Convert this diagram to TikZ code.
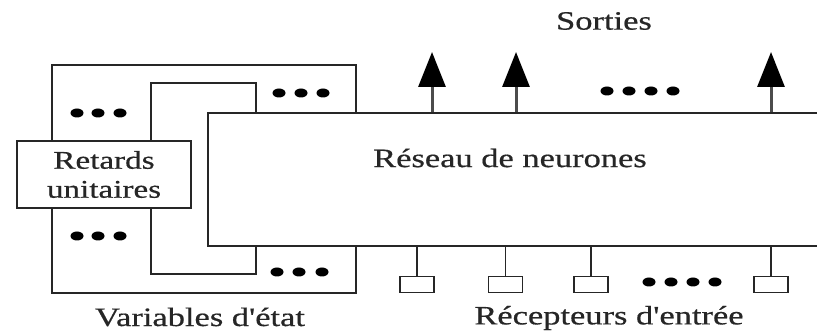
\documentclass[tikz,border=0pt]{standalone}
\usepackage{fontspec}
\newfontfamily\dfont[FakeStretch=1.3,FakeBold=0.6]{Liberation Serif}
\usetikzlibrary{arrows.meta}
\begin{document}
\begin{tikzpicture}[x=1pt,y=-1pt,
  ln/.style={line width=1.6pt, draw=black!85},
  lbl/.style={font=\dfont\fontsize{26.5}{30}\selectfont, text=black!85, inner sep=0pt},
  boxlbl/.style={font=\dfont\fontsize{25.5}{29}\selectfont, text=black!85, align=center},
  outarrow/.style={line width=3pt, draw=black!70, -{Triangle[width=27pt,length=35pt,color=black,fill=black]}},
  recbox/.style={draw=black!85, line width=1.8pt, minimum width=34pt, minimum height=16pt, inner sep=0pt},
  dotmark/.style={fill=black, draw=none}
]
\useasboundingbox (0,0) rectangle (817,336);
\clip (0,0) rectangle (817,336);

% main network box (open to the right edge)
\node[ln, rectangle, minimum width=650pt, minimum height=133pt, anchor=north west, inner sep=0pt] (main) at (207,112) {};
\node[lbl] (mainlbl) at (510,158) {Réseau de neurones};

% unit delays
\node[ln, rectangle, minimum width=174pt, minimum height=67pt, inner sep=0pt, boxlbl] (retards) at (104,174.5) {Retards\\unitaires};

% feedback loops
\coordinate (oL) at (52,65);  \coordinate (oR) at (356,65);
\coordinate (iL) at (151,83); \coordinate (iR) at (256,83);
\coordinate (bL) at (52,293); \coordinate (bR) at (356,293);
\coordinate (jL) at (151,274); \coordinate (jR) at (256,274);
\draw[ln] (retards.north -| oL) -- (oL) -- (oR) -- (main.north -| oR);
\draw[ln] (retards.north -| iL) -- (iL) -- (iR) -- (main.north -| iR);
\draw[ln] (retards.south -| bL) -- (bL) -- (bR) -- (main.south -| bR);
\draw[ln] (retards.south -| jL) -- (jL) -- (jR) -- (main.south -| jR);

% outputs
\coordinate (a1) at (432,52);
\coordinate (a2) at (516,52);
\coordinate (a3) at (771,52);
\foreach \a in {a1,a2,a3} \draw[outarrow] (main.north -| \a) -- (\a);
\node[lbl] (sorties) at (604,21) {Sorties};

% input receptors
\node[recbox] (r1) at (417,284.5) {};
\node[recbox] (r2) at (505.5,284.5) {};
\node[recbox] (r3) at (591,284.5) {};
\node[recbox] (r4) at (771,284.5) {};
\foreach \r in {r1,r2,r3,r4} \draw[ln] (main.south -| \r.north) -- (\r.north);
\node[lbl] (recept) at (609,318) {Récepteurs d'entrée};
\node[lbl] (varetat) at (200,317) {Variables d'état};

% dots
\foreach \x/\y in {77/113,98/113,120/113, 279/93,301/93,323/93, 77/236,98/236,120/236, 277/272,299/272,322/272,
                   607/91,629/91,651/91,673/91, 649/282,671/282,693/282,715/282}
  \fill[dotmark] (\x,\y) ellipse [x radius=6.5pt, y radius=4.5pt];
\end{tikzpicture}
\end{document}
